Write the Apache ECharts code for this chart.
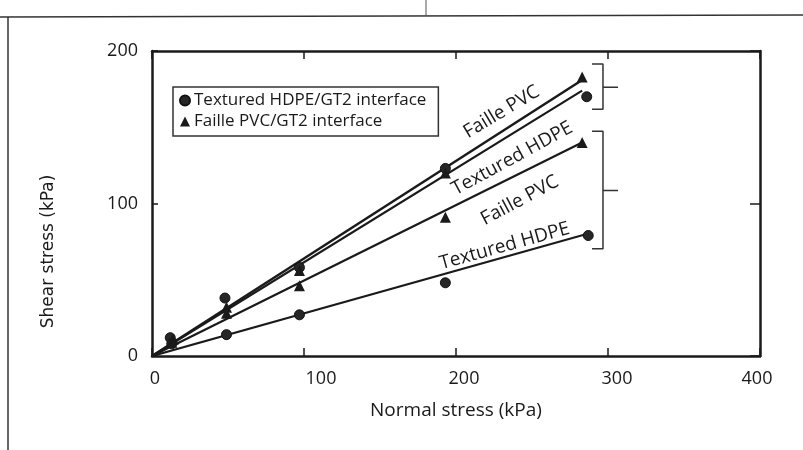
<!DOCTYPE html>
<html>
<head>
<meta charset="utf-8">
<script src="https://cdn.jsdelivr.net/npm/echarts@6/dist/echarts.min.js"></script>
<style>
html,body{margin:0;padding:0;background:#fff;}
#c{width:803px;height:450px;}
</style>
</head>
<body>
<div id="c"></div>
<script>
// ---- data (kPa) ----
const xTicks = [0, 100, 200, 300, 400];
const yTicks = [0, 100, 200];

const hdpeName = 'Textured HDPE/GT2 interface';
const pvcName = 'Faille PVC/GT2 interface';

// measured points: [normal stress, shear stress]
const hdpePeak     = [[12, 12], [48, 38], [97, 58], [193, 123], [286, 170]];
const hdpeResidual = [[13, 8], [49, 14], [97, 27], [193, 48], [287, 79]];
const pvcPeak      = [[14, 11], [49, 32], [97, 56], [193, 120], [283, 183]];
const pvcResidual  = [[13, 9], [49, 28], [97, 46], [193, 91], [283, 140]];

// fitted envelopes (start, end)
const pvcPeakFit      = [[0, 0], [283, 181]];
const hdpePeakFit     = [[0, 0], [283, 174]];
const pvcResidualFit  = [[0, 0], [283, 140]];
const hdpeResidualFit = [[0, 0], [286, 80]];

// line annotations: text, anchor [x, y] in data units, angle
const lineLabels = [
  ['Faille PVC',    [230, 160], 31],
  ['Textured HDPE', [237, 129.5], 28.5],
  ['Faille PVC',    [242, 102], 28],
  ['Textured HDPE', [232, 72], 15.5]
];

// brackets grouping peak / residual envelopes (data units)
const bracketPeak     = [[289.5, 191.4], [296.7, 191.4], [296.7, 161.8], [289.5, 161.8]];
const bracketPeakTick = [[296.7, 176.3], [306.6, 176.3]];
const bracketRes      = [[289.5, 147.4], [296.7, 147.4], [296.7, 70.4], [289.5, 70.4]];
const bracketResTick  = [[296.7, 108.6], [306.6, 108.6]];

// ---- chart ----
const ink = '#1a1a1a';
const font = '"Open Sans", "Noto Sans", sans-serif';
const chart = echarts.init(document.getElementById('c'), null, {renderer: 'canvas'});

function fitLine(data, w) {
  return {
    type: 'line', data: data, symbol: 'none', silent: true,
    lineStyle: {color: ink, width: w}, z: 2, animation: false
  };
}
function bracket(data) {
  return {
    type: 'line', data: data, symbol: 'none', silent: true,
    lineStyle: {color: '#333', width: 1.5}, z: 2, animation: false
  };
}

const labelSeries = {
  type: 'scatter', data: [], silent: true, animation: false,
  markPoint: {
    symbol: 'circle', symbolSize: 0, silent: true, animation: false,
    data: lineLabels.map(l => ({
      coord: l[1],
      label: {
        show: true, formatter: l[0], rotate: l[2], position: 'inside',
        color: ink, fontSize: 19, fontFamily: font
      }
    }))
  }
};

// per-label horizontal nudges of the scanned tick labels
const xLabelRich = {
  t0: {padding: [0, 0, 0, 6]},
  t100: {padding: [0, 0, 0, 34]},
  t200: {padding: [0, 0, 0, 16]},
  t300: {padding: [0, 0, 0, 18]},
  t400: {padding: [0, 6, 0, 0]}
};
Object.values(xLabelRich).forEach(r => { r.fontSize = 18; r.color = ink; r.fontFamily = font; });

const option = {
  backgroundColor: '#fff',
  animation: false,
  textStyle: {fontFamily: font},
  grid: {left: 152, right: 43, top: 51, bottom: 94, containLabel: false},
  legend: {
    left: 173, top: 87, orient: 'vertical',
    data: [{name: hdpeName, icon: 'circle'}, {name: pvcName, icon: 'triangle'}],
    itemWidth: 10, itemHeight: 10, itemGap: 4,
    padding: [5, 12, 6, 6],
    borderColor: '#333', borderWidth: 1.5,
    textStyle: {color: ink, fontSize: 17, fontFamily: font, padding: [0, 0, 0, -1]},
    selectedMode: false
  },
  xAxis: [{
    type: 'value', min: 0, max: 400, interval: 100,
    name: 'Normal stress (kPa)', nameLocation: 'middle', nameGap: 45,
    nameTextStyle: {color: ink, fontSize: 19, fontFamily: font},
    axisLine: {show: true, onZero: false, lineStyle: {color: ink, width: 2.5}},
    axisTick: {show: true, inside: true, length: 8, lineStyle: {color: ink, width: 1.5}},
    axisLabel: {color: ink, fontSize: 18, margin: 14, fontFamily: font,
      formatter: v => xTicks.includes(v) ? '{t' + v + '|' + v + '}' : '',
      rich: xLabelRich},
    splitLine: {show: false}
  }, {
    type: 'value', min: 0, max: 400, interval: 100, position: 'top',
    axisLine: {show: true, onZero: false, lineStyle: {color: ink, width: 2.5}},
    axisTick: {show: true, inside: true, length: 8, lineStyle: {color: ink, width: 1.5}},
    axisLabel: {show: false}, splitLine: {show: false}
  }],
  yAxis: [{
    type: 'value', min: 0, max: 200, interval: 100,
    name: 'Shear stress (kPa)', nameLocation: 'middle', nameGap: 95,
    nameTextStyle: {color: ink, fontSize: 17, fontFamily: '"DejaVu Sans", sans-serif',
      padding: [0, 96, 0, 0]},
    axisLine: {show: true, onZero: false, lineStyle: {color: ink, width: 2.5}},
    axisTick: {show: true, inside: true, length: 6, lineStyle: {color: ink, width: 1.5}},
    axisLabel: {color: ink, fontSize: 18, margin: 14, fontFamily: font,
      formatter: v => yTicks.includes(v) ? String(v) : ''},
    splitLine: {show: false}
  }, {
    type: 'value', min: 0, max: 200, interval: 100, position: 'right',
    axisLine: {show: true, onZero: false, lineStyle: {color: ink, width: 2.5}},
    axisTick: {show: true, inside: true, length: 10, lineStyle: {color: ink, width: 1.5}},
    axisLabel: {show: false}, splitLine: {show: false}
  }],
  graphic: [
    {type: 'line', shape: {x1: 0, y1: 17, x2: 803, y2: 15}, style: {stroke: '#333', lineWidth: 1.5}, silent: true},
    {type: 'line', shape: {x1: 8, y1: 17, x2: 8, y2: 450}, style: {stroke: '#333', lineWidth: 1.5}, silent: true},
    {type: 'line', shape: {x1: 426, y1: 0, x2: 426, y2: 16}, style: {stroke: '#555', lineWidth: 1}, silent: true}
  ],
  series: [
    fitLine(pvcPeakFit, 2.5),
    fitLine(hdpePeakFit, 2.2),
    fitLine(pvcResidualFit, 2.2),
    fitLine(hdpeResidualFit, 2.2),
    bracket(bracketPeak), bracket(bracketPeakTick),
    bracket(bracketRes), bracket(bracketResTick),
    {
      name: hdpeName, type: 'scatter', symbol: 'circle', symbolSize: 10,
      data: hdpePeak.concat(hdpeResidual),
      itemStyle: {color: '#262626', borderColor: '#111', borderWidth: 1, opacity: 1}, z: 4
    },
    {
      name: pvcName, type: 'scatter', symbol: 'triangle', symbolSize: 11,
      data: pvcPeak.concat(pvcResidual),
      itemStyle: {color: '#1a1a1a', opacity: 1}, z: 4
    },
    labelSeries
  ]
};
chart.setOption(option);
</script>
</body>
</html>
